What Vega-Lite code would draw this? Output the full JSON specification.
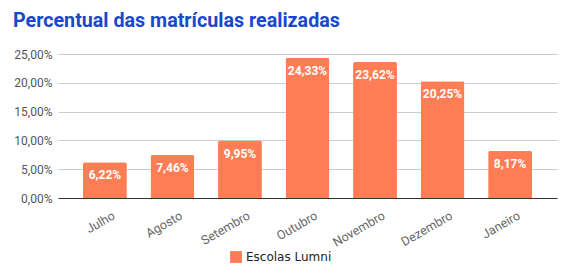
{
  "$schema": "https://vega.github.io/schema/vega-lite/v6.json",
  "autosize": "none",
  "width": 499,
  "height": 144,
  "padding": {"left": 58, "top": 54, "right": 14, "bottom": 81},
  "config": {
    "locale": {"number": {"decimal": ",", "thousands": ".", "grouping": [3], "currency": ["R$", ""]}},
    "view": {"stroke": null},
    "font": "Roboto"
  },
  "title": {
    "text": "Percentual das matrículas realizadas",
    "anchor": "start",
    "frame": "group",
    "dx": -45,
    "offset": 17,
    "fontSize": 19.7,
    "fontWeight": "bold",
    "font": "Roboto",
    "color": "#1a47cc"
  },
  "data": {
    "values": [
      {"mes": "Julho", "serie": "Escolas Lumni", "valor": 0.0622},
      {"mes": "Agosto", "serie": "Escolas Lumni", "valor": 0.0746},
      {"mes": "Setembro", "serie": "Escolas Lumni", "valor": 0.0995},
      {"mes": "Outubro", "serie": "Escolas Lumni", "valor": 0.2433},
      {"mes": "Novembro", "serie": "Escolas Lumni", "valor": 0.2362},
      {"mes": "Dezembro", "serie": "Escolas Lumni", "valor": 0.2025},
      {"mes": "Janeiro", "serie": "Escolas Lumni", "valor": 0.0817}
    ]
  },
  "encoding": {
    "x": {
      "field": "mes", "type": "nominal", "sort": null,
      "scale": {"paddingInner": 0.35, "paddingOuter": 0.37},
      "axis": {"title": null, "labelAngle": -30, "labelFontSize": 12.5, "labelColor": "#666", "labelFont": "Roboto", "ticks": false, "domainColor": "#333", "labelPadding": 11, "labelOffset": 6}
    },
    "y": {
      "field": "valor", "type": "quantitative",
      "scale": {"domain": [0, 0.25]},
      "axis": {"title": null, "format": ".2%", "values": [0, 0.05, 0.1, 0.15, 0.2, 0.25], "domain": false, "ticks": false, "labelFontSize": 12, "labelColor": "#555", "labelFont": "Roboto", "gridColor": "#ccc", "labelPadding": 6}
    }
  },
  "layer": [
    {
      "mark": {"type": "bar", "cornerRadiusTopLeft": 2, "cornerRadiusTopRight": 2},
      "encoding": {
        "color": {
          "field": "serie", "type": "nominal",
          "scale": {"range": ["#ff7d55"]},
          "legend": {"title": null, "orient": "none", "legendX": 172, "legendY": 197, "symbolType": "square", "symbolSize": 140, "labelFontSize": 12, "labelColor": "#222", "labelFont": "DejaVu Sans", "symbolStrokeWidth": 0}
        }
      }
    },
    {
      "mark": {"type": "text", "baseline": "middle", "dy": 13, "color": "white", "fontWeight": "bold", "fontSize": 12, "font": "Roboto"},
      "encoding": {
        "text": {"field": "valor", "type": "quantitative", "format": ".2%"}
      }
    }
  ]
}
